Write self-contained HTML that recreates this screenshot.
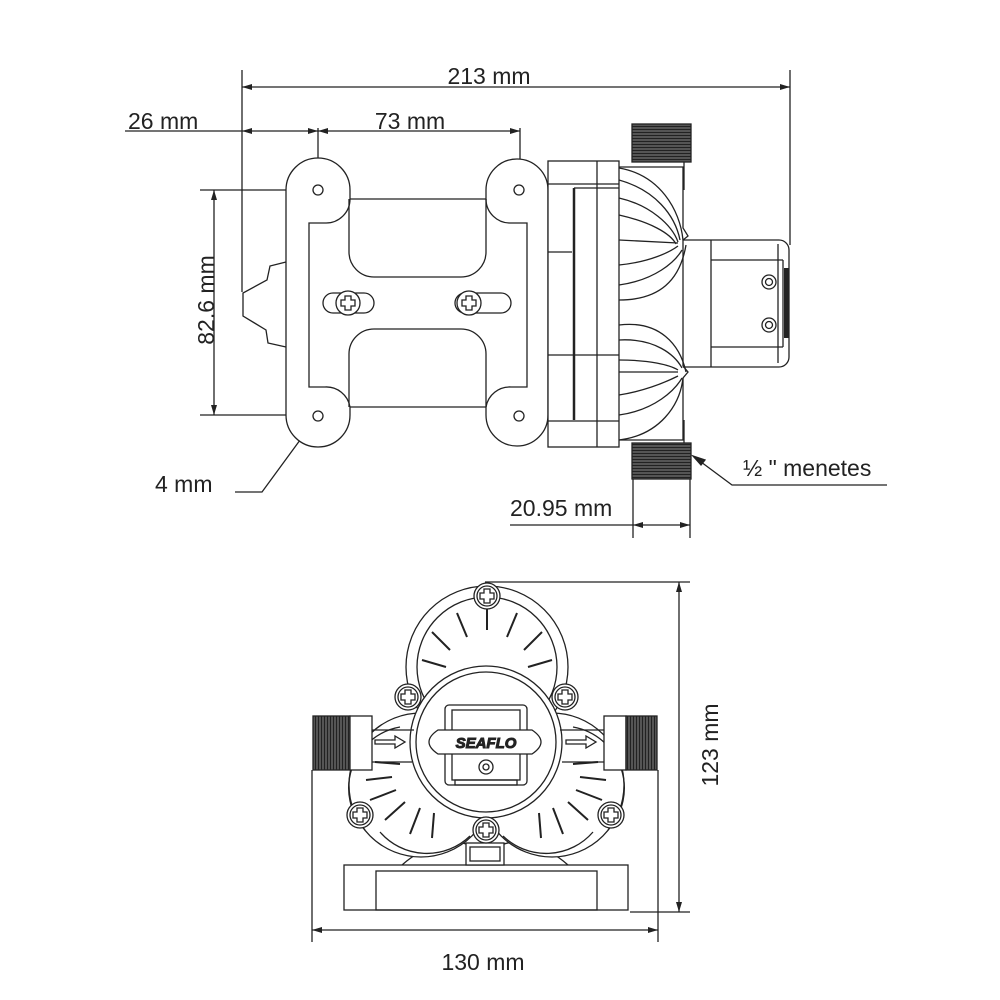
<!DOCTYPE html>
<html><head><meta charset="utf-8"><style>
html,body{margin:0;padding:0;background:#fff}
svg{display:block}
text{font-family:"Liberation Sans",sans-serif;fill:#222}
</style></head><body>
<svg width="1000" height="1000" viewBox="0 0 1000 1000" xmlns="http://www.w3.org/2000/svg">
<defs>
<marker id="a" viewBox="0 0 10 6" refX="10" refY="3" markerWidth="10" markerHeight="6" orient="auto-start-reverse" markerUnits="userSpaceOnUse"><path d="M0,0L10,3L0,6z" fill="#222"/></marker>
<pattern id="th" width="4" height="3" patternUnits="userSpaceOnUse"><rect width="4" height="3" fill="#555"/><rect width="4" height="1" fill="#222"/></pattern>
<pattern id="tv" width="3" height="4" patternUnits="userSpaceOnUse"><rect width="3" height="4" fill="#555"/><rect width="1" height="4" fill="#222"/></pattern>
</defs>
<g stroke="#222" stroke-width="1.3" fill="none">
<line x1="242" y1="70" x2="242" y2="292"/>
<line x1="790" y1="70" x2="790" y2="245"/>
<line x1="242" y1="87" x2="790" y2="87" marker-start="url(#a)" marker-end="url(#a)"/>
<line x1="125" y1="131" x2="242" y2="131"/>
<line x1="242" y1="131" x2="318" y2="131" marker-start="url(#a)" marker-end="url(#a)"/>
<line x1="318" y1="131" x2="520" y2="131" marker-start="url(#a)" marker-end="url(#a)"/>
<line x1="318" y1="128" x2="318" y2="190"/>
<line x1="520" y1="128" x2="520" y2="190"/>
<line x1="200" y1="190" x2="318" y2="190"/>
<line x1="200" y1="415" x2="318" y2="415"/>
<line x1="214" y1="190" x2="214" y2="415" marker-start="url(#a)" marker-end="url(#a)"/>
<polyline points="235,492 262,492 314,421" />
<path d="M314,421 l-3,12 l-5,-4z" fill="#222"/>
<polyline points="887,485 732,485 693,456"/>
<path d="M693,456 l12,4 l-4,5z" fill="#222"/>
<line x1="633" y1="478" x2="633" y2="538"/>
<line x1="690" y1="478" x2="690" y2="538"/>
<line x1="510" y1="525" x2="633" y2="525"/>
<line x1="633" y1="525" x2="690" y2="525" marker-start="url(#a)" marker-end="url(#a)"/>

<polyline points="286,262 270,266 267,280 243,293 243,316 266,330 268,343 286,347"/>
<path d="M286,190 A31,31 0 0 1 350,190 L350,199 L486,199 L486,190 A31,31 0 0 1 548,190 L548,415 A31,31 0 0 1 486,415 L486,407 L350,407 L350,415 A31,31 0 0 1 286,415 Z" fill="#fff"/>
<path d="M350,199 A24,24 0 0 1 325,223 L309,223 L309,387 L325,387 A24,24 0 0 1 350,407"/>
<path d="M486,199 A24,24 0 0 0 511,223 L527,223 L527,387 L511,387 A24,24 0 0 0 486,407"/>
<path d="M349,199 L349,252 A25,25 0 0 0 374,277 L461,277 A25,25 0 0 0 486,252 L486,199"/>
<path d="M349,407 L349,354 A25,25 0 0 1 374,329 L461,329 A25,25 0 0 1 486,354 L486,407"/>
<circle cx="318" cy="190" r="5"/><circle cx="519" cy="190" r="5"/>
<circle cx="318" cy="416" r="5"/><circle cx="519" cy="416" r="5"/>
<rect x="323" y="293" width="51" height="20" rx="10"/>
<rect x="455" y="293" width="56" height="20" rx="10"/>
<circle cx="348" cy="303" r="12" fill="#fff"/><circle cx="469" cy="303" r="12" fill="#fff"/>
<path d="M345,296h6v4h4v6h-4v4h-6v-4h-4v-6h4z"/>
<path d="M466,296h6v4h4v6h-4v4h-6v-4h-4v-6h4z"/>
<rect x="548" y="161" width="71" height="286" fill="#fff"/>
<line x1="597" y1="161" x2="597" y2="447"/>
<line x1="548" y1="184" x2="619" y2="184"/>
<line x1="548" y1="421" x2="619" y2="421"/>
<line x1="548" y1="252" x2="572" y2="252"/>
<line x1="548" y1="355" x2="619" y2="355"/>
<line x1="574" y1="188" x2="574" y2="420" stroke-width="2.5"/>
<line x1="574" y1="188" x2="619" y2="188"/>
<path d="M619,167 L683,167 L683,228 L688,236 L683,240 L683,366 L688,372 L683,378 L683,440 L619,440"/>
<path d="M619,168 C660,175 680,210 683,240"/><path d="M619,180 C655,190 675,215 680,240"/>
<path d="M619,198 C650,205 672,225 678,242"/><path d="M619,215 C650,222 670,233 676,244"/>
<path d="M619,240 L678,243"/><path d="M619,265 C650,262 670,252 678,246"/>
<path d="M619,285 C655,280 675,262 682,250"/><path d="M619,300 C660,300 680,280 686,245"/>
<path d="M619,325 C660,320 680,345 686,372"/><path d="M619,340 C655,338 675,355 682,368"/>
<path d="M619,360 C650,360 670,365 678,370"/><path d="M619,372 L678,372"/>
<path d="M619,395 C650,390 670,380 678,376"/><path d="M619,415 C655,410 675,390 682,378"/>
<path d="M619,440 C660,435 680,405 683,378"/>
<rect x="632" y="124" width="59" height="38" fill="url(#th)"/>
<rect x="632" y="443" width="59" height="36" fill="url(#th)"/>
<line x1="684" y1="162" x2="684" y2="190"/>
<line x1="684" y1="420" x2="684" y2="443"/>
<path d="M683,240 L779,240 A10,10 0 0 1 789,250 L789,357 A10,10 0 0 1 779,367 L683,367"/>
<line x1="711" y1="240" x2="711" y2="367"/>
<line x1="711" y1="260" x2="783" y2="260"/>
<line x1="711" y1="347" x2="783" y2="347"/>
<line x1="778" y1="244" x2="778" y2="363"/>
<line x1="783" y1="260" x2="783" y2="347"/>
<rect x="784" y="268" width="5" height="70" fill="#222" stroke="none"/>
<circle cx="769" cy="282" r="7"/><circle cx="769" cy="282" r="3.5"/>
<circle cx="769" cy="325" r="7"/><circle cx="769" cy="325" r="3.5"/>

<line x1="485" y1="582" x2="690" y2="582"/>
<line x1="630" y1="912" x2="690" y2="912"/>
<line x1="679" y1="582" x2="679" y2="912" marker-start="url(#a)" marker-end="url(#a)"/>
<line x1="312" y1="770" x2="312" y2="942"/>
<line x1="658" y1="770" x2="658" y2="942"/>
<line x1="312" y1="930" x2="658" y2="930" marker-start="url(#a)" marker-end="url(#a)"/>
<rect x="344" y="865" width="284" height="45" fill="#fff"/>
<rect x="376" y="871" width="221" height="39"/>
<path d="M402,865 C430,840 460,840 468,845"/><path d="M568,865 C540,840 510,840 502,845"/>
<rect x="466" y="843" width="38" height="22" fill="#fff"/><rect x="470" y="847" width="30" height="14"/>
<!-- body lobes: union of circles -->
<circle cx="487" cy="667" r="81" fill="#fff"/>
<circle cx="421" cy="785" r="72" fill="#fff"/>
<circle cx="552" cy="785" r="72" fill="#fff"/>
<g fill="#fff" stroke="none">
<circle cx="487" cy="667" r="80"/><circle cx="421" cy="785" r="71"/><circle cx="552" cy="785" r="71"/>
</g>
<circle cx="487" cy="667" r="70"/>
<path d="M365,830 A62,62 0 0 1 400,727"/><path d="M470,836 A62,62 0 0 1 380,832"/>
<path d="M608,830 A62,62 0 0 0 573,727"/><path d="M503,836 A62,62 0 0 0 593,832"/>
<g stroke-width="2">
<line x1="487" y1="605" x2="487" y2="630"/>
<line x1="457" y1="613" x2="467" y2="637"/><line x1="517" y1="613" x2="507" y2="637"/>
<line x1="432" y1="632" x2="450" y2="650"/><line x1="542" y1="632" x2="524" y2="650"/>
<line x1="422" y1="660" x2="446" y2="667"/><line x1="552" y1="660" x2="528" y2="667"/>
<line x1="366" y1="780" x2="392" y2="777"/><line x1="606" y1="780" x2="580" y2="777"/>
<line x1="370" y1="800" x2="396" y2="790"/><line x1="602" y1="800" x2="576" y2="790"/>
<line x1="385" y1="820" x2="405" y2="802"/><line x1="588" y1="820" x2="568" y2="802"/>
<line x1="410" y1="834" x2="420" y2="808"/><line x1="563" y1="834" x2="553" y2="808"/>
<line x1="432" y1="838" x2="434" y2="813"/><line x1="541" y1="838" x2="539" y2="813"/>
<line x1="375" y1="762" x2="400" y2="764"/><line x1="598" y1="762" x2="573" y2="764"/>
</g>
<circle cx="486" cy="742" r="76" fill="#fff"/>
<circle cx="486" cy="742" r="70"/>
<rect x="445" y="705" width="82" height="80" rx="4"/>
<rect x="452" y="710" width="68" height="22"/>
<rect x="452" y="752" width="68" height="28"/>
<rect x="455" y="780" width="62" height="5"/>
<path d="M438,730 L532,730 Q550,742 532,754 L438,754 Q420,742 438,730Z" fill="#fff"/>
<circle cx="486" cy="767" r="7"/><circle cx="486" cy="767" r="3"/>
<rect x="313" y="716" width="37" height="54" fill="url(#tv)"/>
<rect x="350" y="716" width="22" height="54" fill="#fff"/>
<line x1="372" y1="730" x2="414" y2="730"/><line x1="372" y1="762" x2="412" y2="762"/>
<path d="M375,740 h20 v-4 l10,6 l-10,6 v-4 h-20z"/>
<rect x="604" y="716" width="22" height="54" fill="#fff"/>
<rect x="626" y="716" width="31" height="54" fill="url(#tv)"/>
<line x1="560" y1="730" x2="604" y2="730"/><line x1="562" y1="762" x2="604" y2="762"/>
<path d="M566,740 h20 v-4 l10,6 l-10,6 v-4 h-20z"/>
</g>
<g stroke="#222" stroke-width="1.3" fill="#fff">
<g transform="translate(487,596)"><circle r="13"/><circle r="10"/><path d="M-3,-7h6v4h4v6h-4v4h-6v-4h-4v-6h4z"/></g>
<g transform="translate(408,697)"><circle r="13"/><circle r="10"/><path d="M-3,-7h6v4h4v6h-4v4h-6v-4h-4v-6h4z"/></g>
<g transform="translate(565,697)"><circle r="13"/><circle r="10"/><path d="M-3,-7h6v4h4v6h-4v4h-6v-4h-4v-6h4z"/></g>
<g transform="translate(360,815)"><circle r="13"/><circle r="10"/><path d="M-3,-7h6v4h4v6h-4v4h-6v-4h-4v-6h4z"/></g>
<g transform="translate(611,815)"><circle r="13"/><circle r="10"/><path d="M-3,-7h6v4h4v6h-4v4h-6v-4h-4v-6h4z"/></g>
<g transform="translate(486,830)"><circle r="13"/><circle r="10"/><path d="M-3,-7h6v4h4v6h-4v4h-6v-4h-4v-6h4z"/></g>
</g>
<text x="486" y="748" font-size="15" font-weight="bold" text-anchor="middle" font-style="italic" fill="#fff" stroke="#222" stroke-width="1">SEAFLO</text>
<g font-size="23">
<text x="489" y="84" text-anchor="middle">213 mm</text>
<text x="128" y="129">26 mm</text>
<text x="410" y="129" text-anchor="middle">73 mm</text>
<text transform="translate(214,300) rotate(-90)" text-anchor="middle">82.6 mm</text>
<text x="155" y="492">4 mm</text>
<text x="743" y="476">½ " menetes</text>
<text x="510" y="516">20.95 mm</text>
<text transform="translate(718,745) rotate(-90)" text-anchor="middle">123 mm</text>
<text x="483" y="970" text-anchor="middle">130 mm</text>
</g>
</svg>
</body></html>
